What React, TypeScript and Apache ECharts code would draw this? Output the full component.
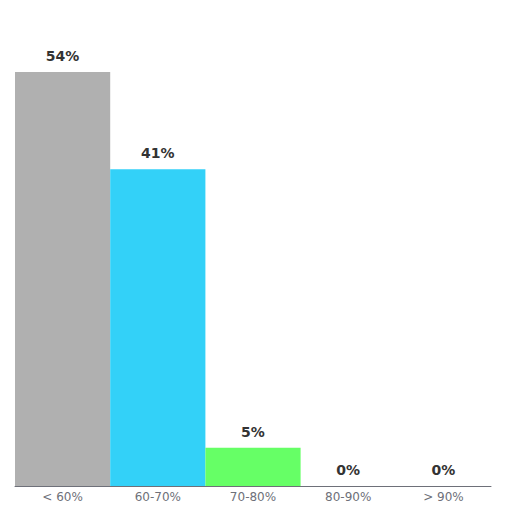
import React, { useEffect, useRef } from "react";
import * as echarts from "echarts";

const categories = ["< 60%", "60-70%", "70-80%", "80-90%", "> 90%"];
const values = [54, 41.3, 5, 0, 0];
const colors = ["#b0b0b0", "#33d1f8", "#66ff66", "#66aaff", "#ffaa66"];

export default function App() {
  const ref = useRef<HTMLDivElement>(null);
  useEffect(() => {
    const chart = echarts.init(ref.current!, null, { renderer: "svg" });
    chart.setOption({
      animation: false,
      textStyle: { fontFamily: "DejaVu Sans" },
      grid: { left: 15, right: 21, top: 26, bottom: 26, containLabel: false },
      xAxis: {
        type: "category",
        data: categories,
        axisTick: { show: false },
        axisLine: { lineStyle: { color: "#6e7079" } },
        axisLabel: { color: "#6e7079", fontSize: 12, fontFamily: "DejaVu Sans", margin: 5 },
      },
      yAxis: { type: "value", min: 0, max: 60, show: false, splitLine: { show: false } },
      series: [
        {
          type: "bar",
          barCategoryGap: "0%",
          data: values.map((v, i) => ({ value: v, itemStyle: { color: colors[i] } })),
          label: {
            show: true,
            position: "top",
            distance: 9,
            color: "#333",
            fontWeight: "bold",
            fontSize: 14,
            fontFamily: "DejaVu Sans",
            formatter: (p: any) => Math.round(p.value) + "%",
          },
        },
      ],
    });
    return () => chart.dispose();
  }, []);
  return <div ref={ref} style={{ width: 512, height: 512, position: "absolute", left: 0, top: 0 }} />;
}
